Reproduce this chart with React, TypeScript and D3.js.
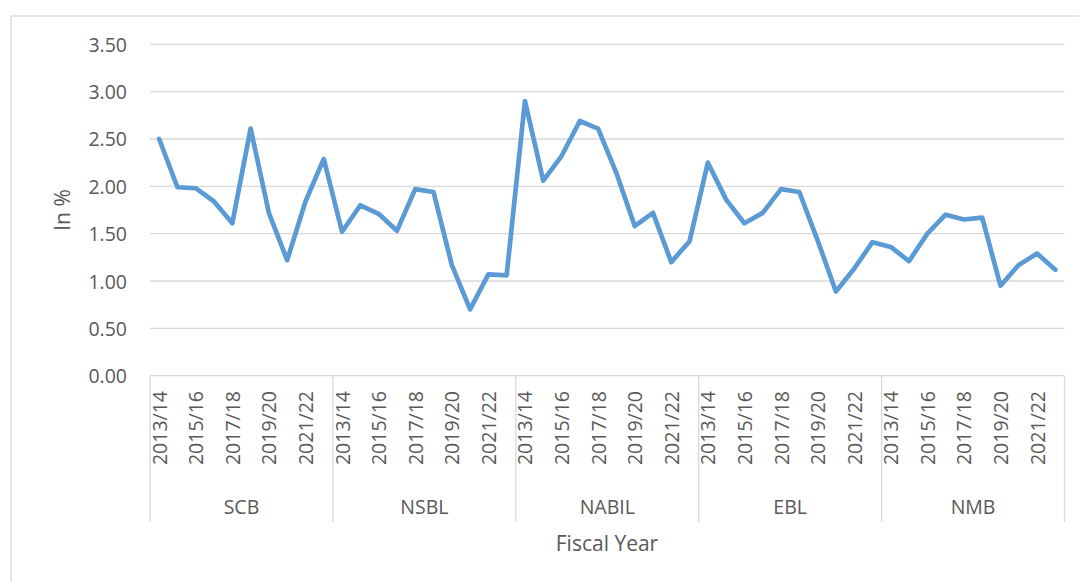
import React from 'react';
import * as d3 from 'd3';

// banks (outer category) and fiscal years (inner category)
const banks = ['SCB', 'NSBL', 'NABIL', 'EBL', 'NMB'];
const years = ['2013/14', '2014/15', '2015/16', '2016/17', '2017/18', '2018/19', '2019/20', '2020/21', '2021/22', '2022/23'];
const yearLabels = ['2013/14', '2015/16', '2017/18', '2019/20', '2021/22'];

const scb = [2.50, 1.99, 1.98, 1.84, 1.61, 2.61, 1.72, 1.22, 1.84, 2.29];
const nsbl = [1.52, 1.80, 1.71, 1.53, 1.97, 1.94, 1.17, 0.70, 1.07, 1.06];
const nabil = [2.90, 2.06, 2.32, 2.69, 2.61, 2.14, 1.58, 1.72, 1.20, 1.42];
const ebl = [2.25, 1.86, 1.61, 1.72, 1.97, 1.94, 1.43, 0.89, 1.13, 1.41];
const nmb = [1.36, 1.21, 1.50, 1.70, 1.65, 1.67, 0.95, 1.17, 1.29, 1.12];

const yTicks = [0, 0.5, 1, 1.5, 2, 2.5, 3, 3.5];

const W = 1079;
const H = 582;
const FONT = '"Open Sans", sans-serif';
const TXT = '#595959';
const GRID = '#d9d9d9';

export default function App() {
  const series = [scb, nsbl, nabil, ebl, nmb];
  const points = banks.flatMap((b, bi) =>
    years.map((yr, yi) => ({ key: b + '|' + yr, bank: b, year: yr, value: series[bi][yi] }))
  );

  const x = d3.scaleBand<string>()
    .domain(points.map(p => p.key))
    .range([150, 1064.5])
    .padding(0);
  const y = d3.scaleLinear().domain([0, 3.5]).range([375.7, 44.3]);

  const groupW = x.bandwidth() * years.length;
  const groupX = (bi: number) => 150 + bi * groupW;

  const lineGen = d3.line<typeof points[number]>()
    .x(p => (x(p.key) as number) + x.bandwidth() / 2)
    .y(p => y(p.value));

  const axisBottom = 522;

  return (
    <svg width={W} height={H} style={{ position: 'absolute', left: 0, top: 0, background: '#fff' }}>
      {/* chart area border */}
      <rect x={11} y={16} width={W + 20} height={H + 20} fill="#fff" stroke={GRID} strokeWidth={1.3} />

      {/* gridlines + y ticks */}
      {yTicks.map(t => (
        <g key={t}>
          {t > 0 && <line x1={150} x2={1064.5} y1={y(t)} y2={y(t)} stroke={GRID} strokeWidth={1.3} />}
          <text x={127} y={y(t)} textAnchor="end" dominantBaseline="central"
            fontFamily={FONT} fontSize={19.5} fill={TXT}>{t.toFixed(2)}</text>
        </g>
      ))}

      {/* category axis */}
      <line x1={150} x2={1064.5} y1={y(0)} y2={y(0)} stroke={GRID} strokeWidth={1.3} />
      {banks.concat(['']).map((b, bi) => (
        <line key={'sep' + bi} x1={groupX(bi)} x2={groupX(bi)} y1={y(0)} y2={axisBottom}
          stroke={GRID} strokeWidth={1.3} />
      ))}
      {points.filter(p => yearLabels.includes(p.year)).map(p => {
        const cx = (x(p.key) as number) + x.bandwidth() / 2;
        return (
          <text key={'yl' + p.key} transform={`translate(${cx},391) rotate(-90)`}
            textAnchor="end" dominantBaseline="central" fontFamily={FONT} fontSize={19.5} fill={TXT}>
            {p.year}
          </text>
        );
      })}
      {banks.map((b, bi) => (
        <text key={'bk' + b} x={groupX(bi) + groupW / 2} y={506} textAnchor="middle"
          dominantBaseline="central" fontFamily={FONT} fontSize={19.5} fill={TXT}>{b}</text>
      ))}

      {/* axis titles */}
      <text x={607} y={543} textAnchor="middle" dominantBaseline="central"
        fontFamily={FONT} fontSize={21} fill={TXT}>Fiscal Year</text>
      <text transform="translate(62,210) rotate(-90)" textAnchor="middle" dominantBaseline="central"
        fontFamily={FONT} fontSize={21} fill={TXT}>In %</text>

      {/* series */}
      <path d={lineGen(points) || ''} fill="none" stroke="#5b9bd5" strokeWidth={4.7}
        strokeLinejoin="round" strokeLinecap="round" />
    </svg>
  );
}
